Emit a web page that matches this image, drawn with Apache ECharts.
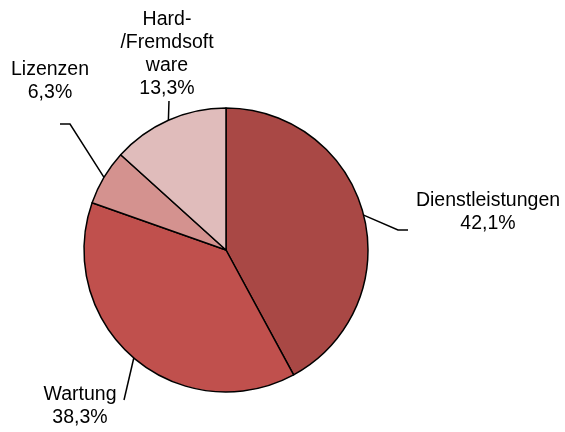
<!DOCTYPE html>
<html>
<head>
<meta charset="utf-8">
<script src="https://cdn.jsdelivr.net/npm/echarts@6/dist/echarts.min.js"></script>
<style>
  html, body { margin: 0; padding: 0; background: #fff; }
  #chart { width: 565px; height: 432px; }
</style>
</head>
<body>
<div id="chart"></div>
<script>
// Umsatzanteile nach Bereich (in %)
const categories = ['Dienstleistungen', 'Wartung', 'Lizenzen', 'Hard-\n/Fremdsoft\nware'];
const shares = [42.1, 38.3, 6.3, 13.3];
const sliceColors = ['#A94845', '#C0504D', '#D4928F', '#E0BCBB'];

// Label placement: centre of each label block plus the leader-line bend
// (offsets relative to the label centre).
const labelPlacement = [
  { x: 488, y: 212, line: [[-90, 18], [-80, 18]] },
  { x: 80, y: 406, line: [[44, -6]] },
  { x: 50, y: 81, line: [[20, 43], [10, 43]] },
  { x: 167, y: 54, line: [[2, 47]] }
];

const chart = echarts.init(document.getElementById('chart'), null, { renderer: 'canvas' });

const fmt = v => v.toFixed(1).replace('.', ',') + '%';

chart.setOption({
  animation: false,
  backgroundColor: '#ffffff',
  series: [{
    type: 'pie',
    center: [226, 250],
    radius: 142,
    startAngle: 90,
    clockwise: true,
    avoidLabelOverlap: false,
    data: categories.map((name, i) => ({
      name: name,
      value: shares[i],
      itemStyle: { color: sliceColors[i] }
    })),
    itemStyle: { borderColor: '#000000', borderWidth: 1.5 },
    emphasis: { disabled: true },
    label: {
      show: true,
      position: 'outside',
      formatter: p => p.name + '\n' + fmt(p.value),
      fontFamily: 'Liberation Sans, Arial, sans-serif',
      fontSize: 19.5,
      lineHeight: 23,
      color: '#000000',
      align: 'center'
    },
    labelLine: {
      show: true,
      length: 20,
      length2: 10,
      lineStyle: { color: '#000000', width: 1.5 }
    },
    labelLayout: function (params) {
      const p = labelPlacement[params.dataIndex];
      const anchor = params.labelLinePoints ? params.labelLinePoints[0] : null;
      const pts = anchor ? [anchor].concat(p.line.map(o => [p.x + o[0], p.y + o[1]])) : undefined;
      return {
        x: p.x,
        y: p.y,
        align: 'center',
        verticalAlign: 'middle',
        labelLinePoints: pts
      };
    }
  }]
});
</script>
</body>
</html>
